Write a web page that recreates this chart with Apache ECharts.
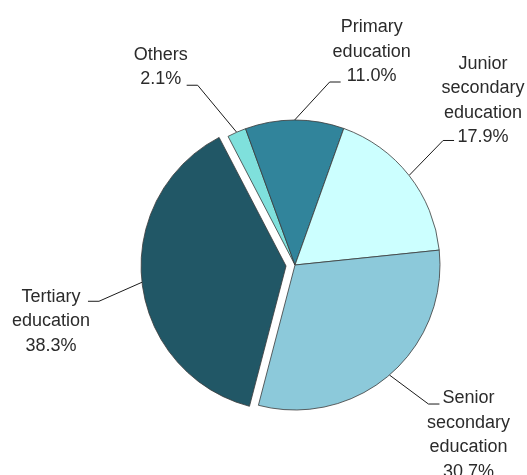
<!DOCTYPE html>
<html>
<head>
<meta charset="utf-8">
<script src="https://cdn.jsdelivr.net/npm/echarts@6/dist/echarts.min.js"></script>
<style>
  html, body { margin: 0; padding: 0; background: #fff; }
  #chart { width: 527px; height: 475px; }
</style>
</head>
<body>
<div id="chart"></div>
<script>
// data
const categories = ['Others', 'Primary education', 'Junior secondary education', 'Senior secondary education', 'Tertiary education'];
const shares = [2.1, 11.0, 17.9, 30.7, 38.3];
const sliceColors = ['#7fe0dc', '#31849b', '#ccffff', '#8cc9da', '#215766'];
const explodedIndex = 4;

// pie geometry
const cx = 295, cy = 265, radius = 145, startAngle = 117.5, explodeOffset = 9;

// leader line elbow and label centre, as offsets from the slice's arc midpoint
const elbowOffsets = [[-39, -47], [35, -38], [34, -35], [39, 29], [-43, 19]];
const labelOffsets = [[-76, -65], [77, -68], [74, -75], [79, 60], [-91, 39]];
const leaderTail = 11;

const total = shares.reduce((a, b) => a + b, 0);
function midAngle(i) {
  let before = 0;
  for (let k = 0; k < i; k++) before += shares[k];
  return (startAngle - (before + shares[i] / 2) / total * 360) * Math.PI / 180;
}
// shift of the exploded slice
const explodeMid = midAngle(explodedIndex);
const shift = [explodeOffset * Math.cos(explodeMid), -explodeOffset * Math.sin(explodeMid)];

function arcMid(i) {
  const a = midAngle(i);
  const s = i === explodedIndex ? shift : [0, 0];
  return [cx + s[0] + radius * Math.cos(a), cy + s[1] - radius * Math.sin(a)];
}

const labelStyle = {
  show: true,
  position: 'outside',
  overflow: 'none',
  fontFamily: '"Liberation Sans", Arial, sans-serif',
  fontSize: 18,
  lineHeight: 24.5,
  color: '#2b2b2b',
  formatter: p => p.name.split(' ').join('\n') + '\n' + p.value.toFixed(1) + '%'
};

const labelLayout = params => {
  const i = params.dataIndex;
  const p0 = arcMid(i);
  const elbow = [p0[0] + elbowOffsets[i][0], p0[1] + elbowOffsets[i][1]];
  const dir = labelOffsets[i][0] < 0 ? -1 : 1;
  const end = [elbow[0] + dir * leaderTail, elbow[1]];
  return {
    x: p0[0] + labelOffsets[i][0],
    y: p0[1] + labelOffsets[i][1],
    align: 'center',
    verticalAlign: 'middle',
    labelLinePoints: [p0, elbow, end]
  };
};

const hidden = {
  itemStyle: { color: 'rgba(0,0,0,0)', borderWidth: 0 },
  label: { show: false },
  labelLine: { show: false }
};

// one pie for the slices in place, one shifted pie that only shows the exploded slice
function pieSeries(showExploded, center) {
  return {
    type: 'pie',
    center: center,
    radius: radius,
    startAngle: startAngle,
    clockwise: true,
    silent: true,
    itemStyle: { borderColor: '#3a3a3a', borderWidth: 0.8 },
    label: labelStyle,
    labelLine: { show: true, lineStyle: { color: '#1a1a1a', width: 1 } },
    labelLayout: labelLayout,
    data: categories.map((name, i) => {
      const item = { name: name, value: shares[i], itemStyle: { color: sliceColors[i] } };
      return ((i === explodedIndex) === showExploded) ? item : Object.assign(item, hidden);
    })
  };
}

const chart = echarts.init(document.getElementById('chart'));
chart.setOption({
  animation: false,
  series: [
    pieSeries(false, [cx, cy]),
    pieSeries(true, [cx + shift[0], cy + shift[1]])
  ]
});
</script>
</body>
</html>
